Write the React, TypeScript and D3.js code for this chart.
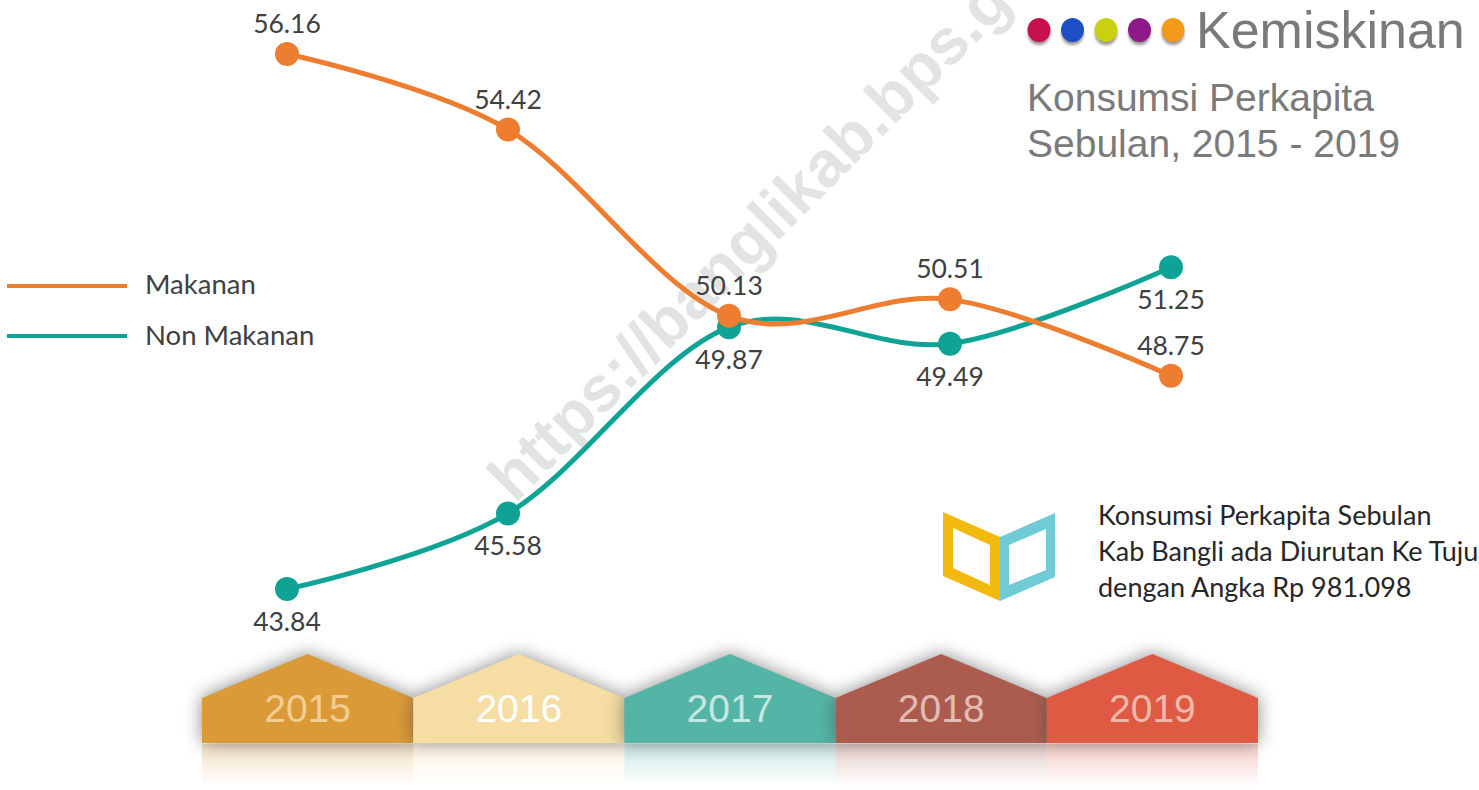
import React from 'react'
import * as d3 from 'd3'

const WIDTH = 1479
const HEIGHT = 790

const years = ['2015', '2016', '2017', '2018', '2019']
const makanan = [56.16, 54.42, 50.13, 50.51, 48.75]
const nonMakanan = [43.84, 45.58, 49.87, 49.49, 51.25]

const yearColors = ['#da9a37', '#f5dda3', '#54b5a6', '#ab5c4e', '#de5a43']
const yearTextColors = ['#f5cd92', '#ffffff', '#c5e8e2', '#e3bdb5', '#f2b8ab']
const dotColors = ['#c8104f', '#1f4fc4', '#c8d010', '#8e1a8a', '#f49a1a']
const noteLines = ['Konsumsi Perkapita Sebulan', 'Kab Bangli ada Diurutan Ke Tujuh', 'dengan Angka Rp 981.098']

const ORANGE = '#ed7d31'
const TEAL = '#0fa396'
const LABEL_FONT = 'Lato, "Open Sans", sans-serif'
const TITLE_FONT = '"Liberation Sans", Arial, sans-serif'

const x = d3.scalePoint<string>().domain(years).range([287, 1171])
const y = d3.scaleLinear().domain([43.84, 56.16]).range([589, 54])

const band = d3.scaleBand<string>().domain(years).range([202, 1258])
const dotX = d3.scalePoint<string>().domain(dotColors).range([1039, 1173])

const line = d3.line<number>()
  .x((d, i) => x(years[i]) as number)
  .y((d) => y(d))
  .curve(d3.curveCardinal.tension(0))

const housePath = (year: string) => {
  const left = band(year) as number
  const w = band.bandwidth()
  return d3.line()([
    [left, 698],
    [left + w / 2, 654],
    [left + w, 698],
    [left + w, 743],
    [left, 743],
  ]) + 'Z'
}

const Series = ({ values, color, dy }: { values: number[]; color: string; dy: number }) => (
  <g>
    <path d={line(values) as string} fill="none" stroke={color} strokeWidth={5} />
    {values.map((d, i) => (
      <g key={years[i]}>
        <circle cx={x(years[i])} cy={y(d)} r={12} fill={color} />
        <text
          x={x(years[i])}
          y={y(d) + dy}
          textAnchor="middle"
          dominantBaseline="central"
          fontFamily={LABEL_FONT}
          fontSize={26.5}
          fill="#404040"
        >
          {d.toFixed(2)}
        </text>
      </g>
    ))}
  </g>
)

export default function App() {
  return (
    <svg
      width={WIDTH}
      height={HEIGHT}
      style={{ position: 'absolute', left: 0, top: 0, display: 'block', background: '#fff' }}
    >
      <defs>
        <filter id="blur" x="-25%" y="-40%" width="150%" height="180%">
          <feGaussianBlur stdDeviation="9" />
        </filter>
        <filter id="dotShadow" x="-50%" y="-50%" width="200%" height="200%">
          <feGaussianBlur stdDeviation="1.5" />
        </filter>
        {years.map((year, i) => (
          <linearGradient key={year} id={`reflect${year}`} x1="0" x2="0" y1="0" y2="1">
            <stop offset="0" stopColor={yearColors[i]} stopOpacity={0.3} />
            <stop offset="1" stopColor={yearColors[i]} stopOpacity={0} />
          </linearGradient>
        ))}
      </defs>

      {/* watermark */}
      <text
        transform="translate(515,504) rotate(-45)"
        fontFamily={TITLE_FONT}
        fontWeight="bold"
        fontSize={64.5}
        fill="#e2e3e3"
      >
        https://banglikab.bps.go.id
      </text>

      {/* lines */}
      <Series values={nonMakanan} color={TEAL} dy={32} />
      <Series values={makanan} color={ORANGE} dy={-31} />

      {/* legend */}
      <g fontFamily={LABEL_FONT} fontSize={27.5} fill="#404040">
        <line x1={7} x2={127} y1={286} y2={286} stroke={ORANGE} strokeWidth={4} />
        <text x={145} y={294}>Makanan</text>
        <line x1={7} x2={127} y1={336} y2={336} stroke={TEAL} strokeWidth={4} />
        <text x={145} y={345}>Non Makanan</text>
      </g>

      {/* title */}
      {dotColors.map((c) => (
        <g key={c}>
          <ellipse cx={dotX(c)} cy={34} rx={11} ry={11} fill="#666" opacity={0.7} filter="url(#dotShadow)" />
          <ellipse cx={dotX(c)} cy={30} rx={11.5} ry={12} fill={c} />
        </g>
      ))}
      <g fontFamily={TITLE_FONT} fill="#7a7a7a">
        <text x={1196} y={48} fontSize={52}>Kemiskinan</text>
        <text x={1027} y={111} fontSize={39}>Konsumsi Perkapita</text>
        <text x={1027} y={157} fontSize={39}>Sebulan, 2015 - 2019</text>
      </g>

      {/* book icon */}
      <path
        fillRule="evenodd"
        fill="#f2b90f"
        d="M943,512L1000,537V601L943,576ZM953,528V568L990,585V545Z"
      />
      <path
        fillRule="evenodd"
        fill="#6fcbd6"
        d="M1000,537L1055,513V577L1000,601ZM1009,545V585L1046,570V529Z"
      />
      <g fontFamily={LABEL_FONT} fontSize={27} fill="#262626">
        {noteLines.map((t, i) => (
          <text key={t} x={1098} y={525 + i * 36}>{t}</text>
        ))}
      </g>

      {/* year houses */}
      {years.map((year, i) => (
        <g key={year}>
          <rect
            x={band(year)}
            y={744}
            width={band.bandwidth()}
            height={42}
            fill={`url(#reflect${year})`}
          />
          <path d={housePath(year)} fill="#4a4a4a" opacity={0.65} filter="url(#blur)" />
          <path d={housePath(year)} fill={yearColors[i]} />
          <text
            x={(band(year) as number) + band.bandwidth() / 2}
            y={722}
            textAnchor="middle"
            fontFamily={TITLE_FONT}
            fontSize={39}
            fill={yearTextColors[i]}
          >
            {year}
          </text>
        </g>
      ))}
    </svg>
  )
}
